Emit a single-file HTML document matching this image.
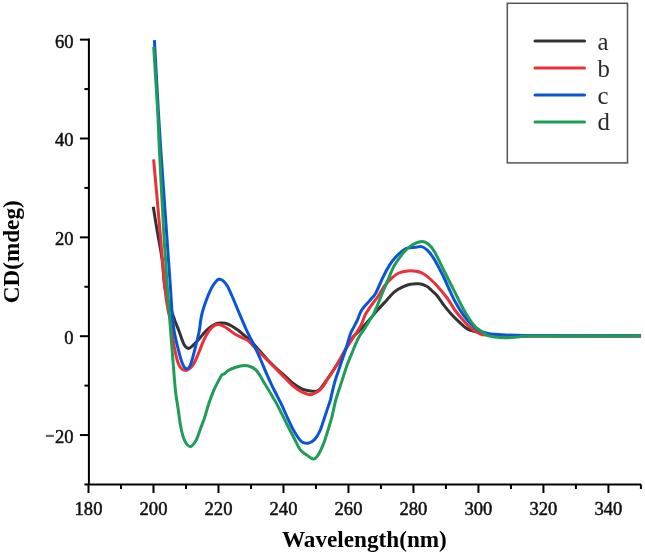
<!DOCTYPE html>
<html><head><meta charset="utf-8"><style>
html,body{margin:0;padding:0;background:#fff;}
body{width:645px;height:556px;overflow:hidden;}
svg{display:block;will-change:transform;}
text{font-family:"Liberation Serif",serif;}
</style></head><body>
<svg width="645" height="556" viewBox="0 0 645 556">
<rect x="0" y="0" width="645" height="556" fill="#fff"/>
<g fill="none" stroke-width="3" stroke-linejoin="round" stroke-linecap="butt">
<path stroke="#333333" d="M153.3 206.8C153.9 210.7 155.5 221.1 157.0 230.0C158.5 238.9 160.8 250.0 162.2 260.0C163.6 270.0 163.4 280.5 165.3 290.0C167.2 299.5 171.4 310.3 173.6 317.0C175.8 323.7 176.9 325.6 178.7 330.3C180.5 335.0 182.5 342.0 184.3 345.0C186.1 348.0 187.2 349.0 189.5 348.2C191.8 347.4 195.8 342.4 198.2 340.0C200.5 337.6 201.8 335.5 203.6 333.5C205.4 331.5 207.2 329.7 209.0 328.2C210.8 326.7 212.6 325.4 214.4 324.5C216.2 323.6 218.0 323.2 219.8 323.0C221.6 322.8 223.2 322.8 225.2 323.3C227.2 323.8 229.5 324.8 231.7 326.0C233.9 327.2 236.0 328.7 238.2 330.3C240.3 331.9 242.4 333.9 244.6 335.7C246.8 337.5 248.7 338.6 251.1 341.0C253.5 343.4 256.2 346.9 258.9 350.0C261.6 353.1 264.5 356.5 267.3 359.5C270.1 362.5 273.0 365.3 275.9 368.0C278.8 370.7 281.6 372.9 284.5 375.5C287.4 378.1 290.3 381.3 293.2 383.5C296.1 385.7 299.2 387.6 301.8 388.8C304.4 390.0 306.4 390.4 309.0 390.8C311.6 391.2 315.2 392.0 317.6 391.0C320.0 390.0 321.1 387.6 323.4 384.6C325.7 381.6 328.9 376.8 331.5 373.0C334.1 369.2 336.3 365.7 338.7 361.7C341.1 357.7 343.5 352.9 345.9 348.8C348.3 344.7 350.6 340.3 353.1 337.0C355.6 333.7 358.4 331.8 361.0 329.0C363.6 326.2 366.1 323.6 368.8 320.5C371.5 317.4 374.4 313.8 377.3 310.4C380.2 307.0 383.6 303.5 386.5 300.4C389.4 297.3 392.0 293.9 394.7 291.7C397.4 289.4 400.2 288.1 402.8 286.9C405.4 285.6 407.7 284.7 410.4 284.2C413.1 283.7 416.5 283.5 419.1 283.8C421.8 284.1 424.2 284.9 426.3 286.0C428.4 287.1 429.9 288.9 431.7 290.5C433.5 292.1 435.1 293.2 437.2 295.8C439.3 298.4 442.0 302.8 444.4 305.9C446.8 309.0 449.2 311.9 451.6 314.5C454.0 317.1 456.2 319.3 458.8 321.7C461.4 324.1 464.5 327.2 467.4 328.9C470.3 330.6 473.4 330.9 476.0 331.8C478.6 332.7 480.0 333.3 483.2 334.0C486.4 334.7 488.9 335.5 495.0 335.8C501.1 336.1 495.7 336.0 520.0 336.0C544.3 336.0 620.8 336.0 641.0 336.0"/>
<path stroke="#ea3038" d="M153.6 159.4C154.7 171.2 158.1 209.1 159.9 230.0C161.7 250.9 163.2 271.7 164.6 285.0C165.9 298.3 166.8 303.4 168.0 310.0C169.2 316.6 170.6 318.6 171.6 324.4C172.6 330.2 172.7 338.3 173.9 345.0C175.1 351.7 176.8 360.4 178.8 364.7C180.8 369.0 183.4 370.6 185.8 370.6C188.2 370.6 190.9 367.9 193.2 364.7C195.4 361.5 197.6 355.4 199.3 351.4C201.0 347.4 202.0 344.0 203.6 340.6C205.2 337.2 207.2 333.4 209.0 330.9C210.8 328.4 212.8 326.6 214.4 325.5C216.0 324.4 217.3 324.3 218.7 324.4C220.1 324.5 221.4 325.2 223.0 326.0C224.6 326.8 226.4 327.9 228.4 329.3C230.4 330.7 232.7 332.8 234.9 334.1C237.1 335.5 239.2 336.3 241.4 337.4C243.6 338.5 245.9 339.2 247.9 340.6C249.9 342.0 251.5 344.2 253.3 346.0C255.1 347.8 256.3 349.1 258.6 351.5C260.9 353.9 264.4 357.2 267.3 360.1C270.2 363.0 273.0 365.9 275.9 368.8C278.8 371.7 281.6 374.5 284.5 377.4C287.4 380.3 290.3 383.6 293.2 386.0C296.1 388.4 298.9 390.4 301.8 391.8C304.7 393.2 307.8 394.7 310.4 394.7C313.0 394.7 315.4 393.2 317.6 391.8C319.8 390.4 321.7 388.2 323.4 386.0C325.1 383.8 326.3 380.9 327.7 378.8C329.1 376.7 329.7 376.1 331.5 373.2C333.3 370.3 336.3 365.8 338.7 361.7C341.1 357.6 343.3 353.1 345.9 348.8C348.5 344.5 351.8 339.6 354.3 335.8C356.8 332.0 359.0 329.3 360.8 325.8C362.6 322.3 363.5 318.2 365.3 314.7C367.1 311.2 369.6 307.8 371.8 304.7C374.0 301.6 376.2 299.1 378.3 296.0C380.4 292.9 382.3 289.0 384.5 286.0C386.7 283.0 389.3 280.3 391.7 278.1C394.1 275.9 396.2 274.2 398.9 273.0C401.5 271.8 404.7 271.2 407.6 270.9C410.5 270.6 413.6 270.8 416.2 271.3C418.8 271.8 421.1 272.4 423.4 273.7C425.7 275.0 427.9 276.9 430.2 279.0C432.5 281.1 434.5 282.9 437.4 286.2C440.3 289.4 444.6 294.6 447.5 298.5C450.4 302.4 452.1 306.2 454.5 309.5C456.9 312.8 459.1 315.5 461.7 318.5C464.3 321.5 467.4 325.1 470.3 327.5C473.2 329.9 476.8 332.0 478.9 333.2C481.0 334.4 480.5 334.3 483.2 334.7C485.9 335.1 488.9 335.6 495.0 335.8C501.1 336.0 495.7 336.0 520.0 336.0C544.3 336.0 620.8 336.0 641.0 336.0"/>
<path stroke="#0a54d6" d="M154.4 40.1C155.1 51.8 157.2 91.7 158.3 110.0C159.4 128.3 159.5 130.0 160.8 150.0C162.2 170.0 165.1 211.7 166.4 230.0C167.7 248.3 167.8 250.8 168.5 260.0C169.2 269.2 169.7 276.7 170.3 285.0C170.9 293.3 171.3 302.5 171.9 310.0C172.5 317.5 173.1 324.0 174.0 330.0C174.9 336.0 176.1 340.7 177.4 346.0C178.7 351.3 180.3 358.2 181.8 362.0C183.3 365.8 184.7 368.4 186.2 368.7C187.7 369.0 188.9 369.0 190.8 364.0C192.7 359.0 196.1 344.5 197.5 338.8C198.9 333.1 198.7 333.9 199.4 330.0C200.1 326.1 200.5 320.1 201.6 315.3C202.7 310.5 204.3 305.8 205.9 301.3C207.5 296.8 209.7 291.5 211.3 288.3C212.9 285.1 214.3 283.4 215.6 281.9C216.8 280.4 217.5 279.4 218.8 279.2C220.1 279.0 221.8 279.6 223.2 280.8C224.6 282.0 225.9 283.3 227.5 286.2C229.1 289.1 231.1 293.9 232.9 298.0C234.7 302.1 236.1 305.8 238.3 311.0C240.5 316.2 243.8 324.1 246.0 329.0C248.2 333.9 249.9 336.9 251.7 340.5C253.4 344.1 255.0 347.2 256.5 350.5C258.0 353.8 259.2 356.3 260.8 360.0C262.4 363.7 264.4 368.8 266.2 372.9C268.0 377.0 269.8 381.0 271.6 384.8C273.4 388.6 275.2 392.0 277.0 395.6C278.8 399.2 280.6 402.7 282.4 406.4C284.1 410.1 285.5 413.6 287.5 417.8C289.5 422.0 292.0 427.7 294.4 431.7C296.8 435.7 299.3 439.8 301.6 441.7C303.9 443.6 306.0 443.5 308.1 443.2C310.2 442.9 312.6 441.5 314.5 439.6C316.4 437.7 318.2 434.7 319.6 431.7C321.1 428.7 321.9 425.5 323.2 421.6C324.5 417.8 326.3 412.2 327.5 408.6C328.7 405.0 329.2 404.2 330.4 400.0C331.5 395.8 332.8 389.0 334.4 383.3C336.0 377.6 338.2 371.8 340.1 366.0C342.0 360.2 344.2 354.1 345.9 348.8C347.6 343.5 348.9 338.0 350.2 334.4C351.5 330.8 352.6 329.6 353.8 327.2C355.0 324.8 356.1 322.8 357.4 320.0C358.7 317.2 359.4 313.7 361.5 310.4C363.6 307.1 367.5 303.3 369.9 300.4C372.3 297.5 373.5 297.0 375.7 293.2C377.9 289.4 380.5 282.1 382.9 277.3C385.3 272.5 387.9 267.8 390.0 264.4C392.1 261.0 393.6 259.4 395.6 257.2C397.6 255.0 399.9 252.9 401.8 251.4C403.7 249.9 404.9 248.8 407.2 248.1C409.5 247.4 413.4 247.6 415.8 247.3C418.2 247.1 419.7 246.1 421.6 246.6C423.5 247.1 425.4 248.4 427.3 250.2C429.2 252.0 431.2 254.5 433.1 257.4C435.0 260.3 436.9 263.9 438.8 267.5C440.7 271.1 442.7 274.9 444.6 279.0C446.5 283.1 448.5 287.9 450.4 291.9C452.3 295.9 453.8 299.2 455.9 303.0C458.0 306.8 460.5 310.9 463.1 314.5C465.7 318.1 468.8 321.8 471.7 324.6C474.6 327.4 477.3 329.5 480.4 331.1C483.5 332.7 486.8 333.4 490.4 334.0C494.0 334.6 496.0 334.5 501.9 334.7C507.8 334.9 502.8 335.2 526.0 335.4C549.2 335.6 621.8 335.7 641.0 335.8"/>
<path stroke="#1f9d58" d="M153.7 47.0C154.3 57.5 156.6 92.8 157.6 110.0C158.6 127.2 158.4 130.0 159.4 150.0C160.4 170.0 162.6 211.7 163.6 230.0C164.6 248.3 165.0 250.8 165.6 260.0C166.2 269.2 166.6 276.7 167.2 285.0C167.8 293.3 167.8 294.2 169.0 310.0C170.2 325.8 173.3 365.9 174.5 380.0C175.7 394.1 175.3 389.6 175.9 394.4C176.5 399.2 177.3 403.3 178.1 408.8C178.9 414.3 179.8 422.2 180.9 427.5C182.0 432.8 182.9 437.2 184.5 440.4C186.1 443.6 188.4 446.5 190.3 446.5C192.2 446.5 194.3 443.3 196.0 440.4C197.7 437.5 199.0 432.7 200.4 428.9C201.8 425.1 203.3 421.7 204.7 417.4C206.1 413.1 207.6 407.3 209.0 403.0C210.4 398.7 212.2 394.3 213.3 391.5C214.4 388.7 214.4 388.7 215.8 386.0C217.2 383.3 220.1 377.3 221.5 375.3C222.9 373.3 223.2 374.7 224.4 373.8C225.6 372.9 226.8 371.3 228.7 370.2C230.6 369.1 233.3 368.1 235.9 367.3C238.5 366.5 242.2 365.7 244.5 365.6C246.8 365.5 248.2 365.9 250.0 366.5C251.8 367.1 253.8 368.1 255.4 369.5C257.0 370.9 258.3 372.8 259.7 375.0C261.1 377.2 262.6 380.1 264.0 382.5C265.4 384.9 266.9 387.1 268.3 389.5C269.8 391.9 271.2 394.4 272.7 396.9C274.1 399.4 275.6 401.7 277.0 404.4C278.4 407.1 279.6 409.5 281.3 412.9C283.0 416.2 284.8 420.2 287.0 424.5C289.2 428.8 292.2 434.6 294.4 438.8C296.6 443.0 298.0 446.8 300.1 449.6C302.2 452.4 305.1 453.8 307.3 455.4C309.5 457.0 311.4 458.9 313.1 459.0C314.8 459.1 315.7 458.5 317.4 456.1C319.1 453.7 321.5 448.7 323.2 444.6C324.9 440.5 326.1 436.2 327.5 431.7C328.9 427.1 330.4 422.6 331.8 417.3C333.2 412.0 334.2 405.9 335.8 400.0C337.4 394.1 339.7 387.8 341.6 381.9C343.5 376.0 345.4 369.9 347.3 364.6C349.2 359.3 351.2 354.8 353.1 350.2C355.0 345.6 356.9 340.9 358.8 337.3C360.7 333.7 362.7 331.7 364.6 328.6C366.5 325.6 368.8 321.6 370.4 319.0C372.0 316.4 372.2 317.1 374.0 313.3C375.8 309.5 378.8 301.8 381.2 296.0C383.6 290.2 386.2 283.8 388.4 278.8C390.6 273.8 392.1 269.6 394.2 265.8C396.3 262.0 399.1 258.4 401.0 255.8C402.9 253.2 403.8 252.1 405.8 250.2C407.8 248.3 410.1 245.9 412.9 244.5C415.6 243.1 419.6 241.6 422.3 241.6C425.0 241.6 426.8 242.8 428.8 244.5C430.8 246.2 432.6 248.6 434.5 251.7C436.4 254.8 438.4 259.4 440.3 263.2C442.2 267.0 444.1 270.9 446.0 274.7C447.9 278.5 449.9 282.4 451.8 286.2C453.7 290.0 456.2 294.9 457.6 297.7C459.0 300.5 458.6 299.9 460.2 303.0C461.8 306.1 465.0 312.2 467.4 316.0C469.8 319.8 472.2 323.4 474.6 326.0C477.0 328.6 479.6 330.2 481.8 331.8C484.0 333.4 485.5 334.5 487.6 335.4C489.8 336.3 491.6 336.6 494.7 337.0C497.8 337.4 502.3 337.8 506.4 337.7C510.5 337.6 515.1 337.0 519.5 336.7C523.9 336.4 512.5 336.2 532.7 336.1C552.9 336.0 622.7 335.9 640.7 335.8"/>
</g>
<g stroke="#000" stroke-width="2" fill="none" stroke-linecap="butt">
<path d="M88.9 38.6 V484.5 H641.1" stroke-linejoin="round"/>
<line x1="84.4" y1="484.48" x2="88.9" y2="484.48"/>
<line x1="79.9" y1="435.05" x2="88.9" y2="435.05"/>
<line x1="84.4" y1="385.62" x2="88.9" y2="385.62"/>
<line x1="79.9" y1="336.20" x2="88.9" y2="336.20"/>
<line x1="84.4" y1="286.77" x2="88.9" y2="286.77"/>
<line x1="79.9" y1="237.35" x2="88.9" y2="237.35"/>
<line x1="84.4" y1="187.92" x2="88.9" y2="187.92"/>
<line x1="79.9" y1="138.50" x2="88.9" y2="138.50"/>
<line x1="84.4" y1="89.07" x2="88.9" y2="89.07"/>
<line x1="79.9" y1="39.65" x2="88.9" y2="39.65"/>
<line x1="88.50" y1="484.5" x2="88.50" y2="493.0"/>
<line x1="121.00" y1="484.5" x2="121.00" y2="489.0"/>
<line x1="153.49" y1="484.5" x2="153.49" y2="493.0"/>
<line x1="185.99" y1="484.5" x2="185.99" y2="489.0"/>
<line x1="218.48" y1="484.5" x2="218.48" y2="493.0"/>
<line x1="250.97" y1="484.5" x2="250.97" y2="489.0"/>
<line x1="283.47" y1="484.5" x2="283.47" y2="493.0"/>
<line x1="315.96" y1="484.5" x2="315.96" y2="489.0"/>
<line x1="348.46" y1="484.5" x2="348.46" y2="493.0"/>
<line x1="380.95" y1="484.5" x2="380.95" y2="489.0"/>
<line x1="413.45" y1="484.5" x2="413.45" y2="493.0"/>
<line x1="445.94" y1="484.5" x2="445.94" y2="489.0"/>
<line x1="478.44" y1="484.5" x2="478.44" y2="493.0"/>
<line x1="510.94" y1="484.5" x2="510.94" y2="489.0"/>
<line x1="543.43" y1="484.5" x2="543.43" y2="493.0"/>
<line x1="575.92" y1="484.5" x2="575.92" y2="489.0"/>
<line x1="608.42" y1="484.5" x2="608.42" y2="493.0"/>
<line x1="640.91" y1="484.5" x2="640.91" y2="489.0"/>
</g>
<g font-size="19.5" fill="#111" stroke="#111" stroke-width="0.5">
<text x="73.5" y="47.5" text-anchor="end" textLength="18.62" lengthAdjust="spacingAndGlyphs">60</text>
<text x="73.5" y="146.4" text-anchor="end" textLength="18.62" lengthAdjust="spacingAndGlyphs">40</text>
<text x="73.5" y="245.2" text-anchor="end" textLength="18.62" lengthAdjust="spacingAndGlyphs">20</text>
<text x="73.5" y="344.1" text-anchor="end" textLength="9.31" lengthAdjust="spacingAndGlyphs">0</text>
<text x="73.5" y="442.9" text-anchor="end" textLength="18.62" lengthAdjust="spacingAndGlyphs">20</text>
<rect x="45.9" y="434.8" width="8" height="2.2" fill="#666" stroke="none"/>
</g>
<g font-size="19.5" fill="#111" stroke="#111" stroke-width="0.5" text-anchor="middle">
<text x="88.5" y="515.2" textLength="27.93" lengthAdjust="spacingAndGlyphs">180</text>
<text x="153.5" y="515.2" textLength="27.93" lengthAdjust="spacingAndGlyphs">200</text>
<text x="218.5" y="515.2" textLength="27.93" lengthAdjust="spacingAndGlyphs">220</text>
<text x="283.5" y="515.2" textLength="27.93" lengthAdjust="spacingAndGlyphs">240</text>
<text x="348.5" y="515.2" textLength="27.93" lengthAdjust="spacingAndGlyphs">260</text>
<text x="413.4" y="515.2" textLength="27.93" lengthAdjust="spacingAndGlyphs">280</text>
<text x="478.4" y="515.2" textLength="27.93" lengthAdjust="spacingAndGlyphs">300</text>
<text x="543.4" y="515.2" textLength="27.93" lengthAdjust="spacingAndGlyphs">320</text>
<text x="608.4" y="515.2" textLength="27.93" lengthAdjust="spacingAndGlyphs">340</text>
</g>
<text x="364.4" y="547.1" font-size="23.2" font-weight="bold" text-anchor="middle" fill="#000">Wavelength(nm)</text>
<text transform="translate(18.6,251.8) rotate(-90)" font-size="23.2" font-weight="bold" text-anchor="middle" fill="#000">CD(mdeg)</text>
<rect x="507.3" y="3.3" width="120.2" height="159.6" fill="none" stroke="#555" stroke-width="1.5"/>
<g stroke-width="3" stroke-linecap="round">
<line x1="535" y1="41.1" x2="584.5" y2="41.1" stroke="#333333"/>
<line x1="535" y1="68.0" x2="584.5" y2="68.0" stroke="#ea3038"/>
<line x1="535" y1="95.0" x2="584.5" y2="95.0" stroke="#0a54d6"/>
<line x1="535" y1="121.9" x2="584.5" y2="121.9" stroke="#1f9d58"/>
</g>
<g font-size="24.8" fill="#2a2a2a">
<text x="597.4" y="49.9">a</text>
<text x="597.4" y="76.8">b</text>
<text x="597.4" y="103.7">c</text>
<text x="597.4" y="130.3">d</text>
</g>
</svg>
</body></html>
